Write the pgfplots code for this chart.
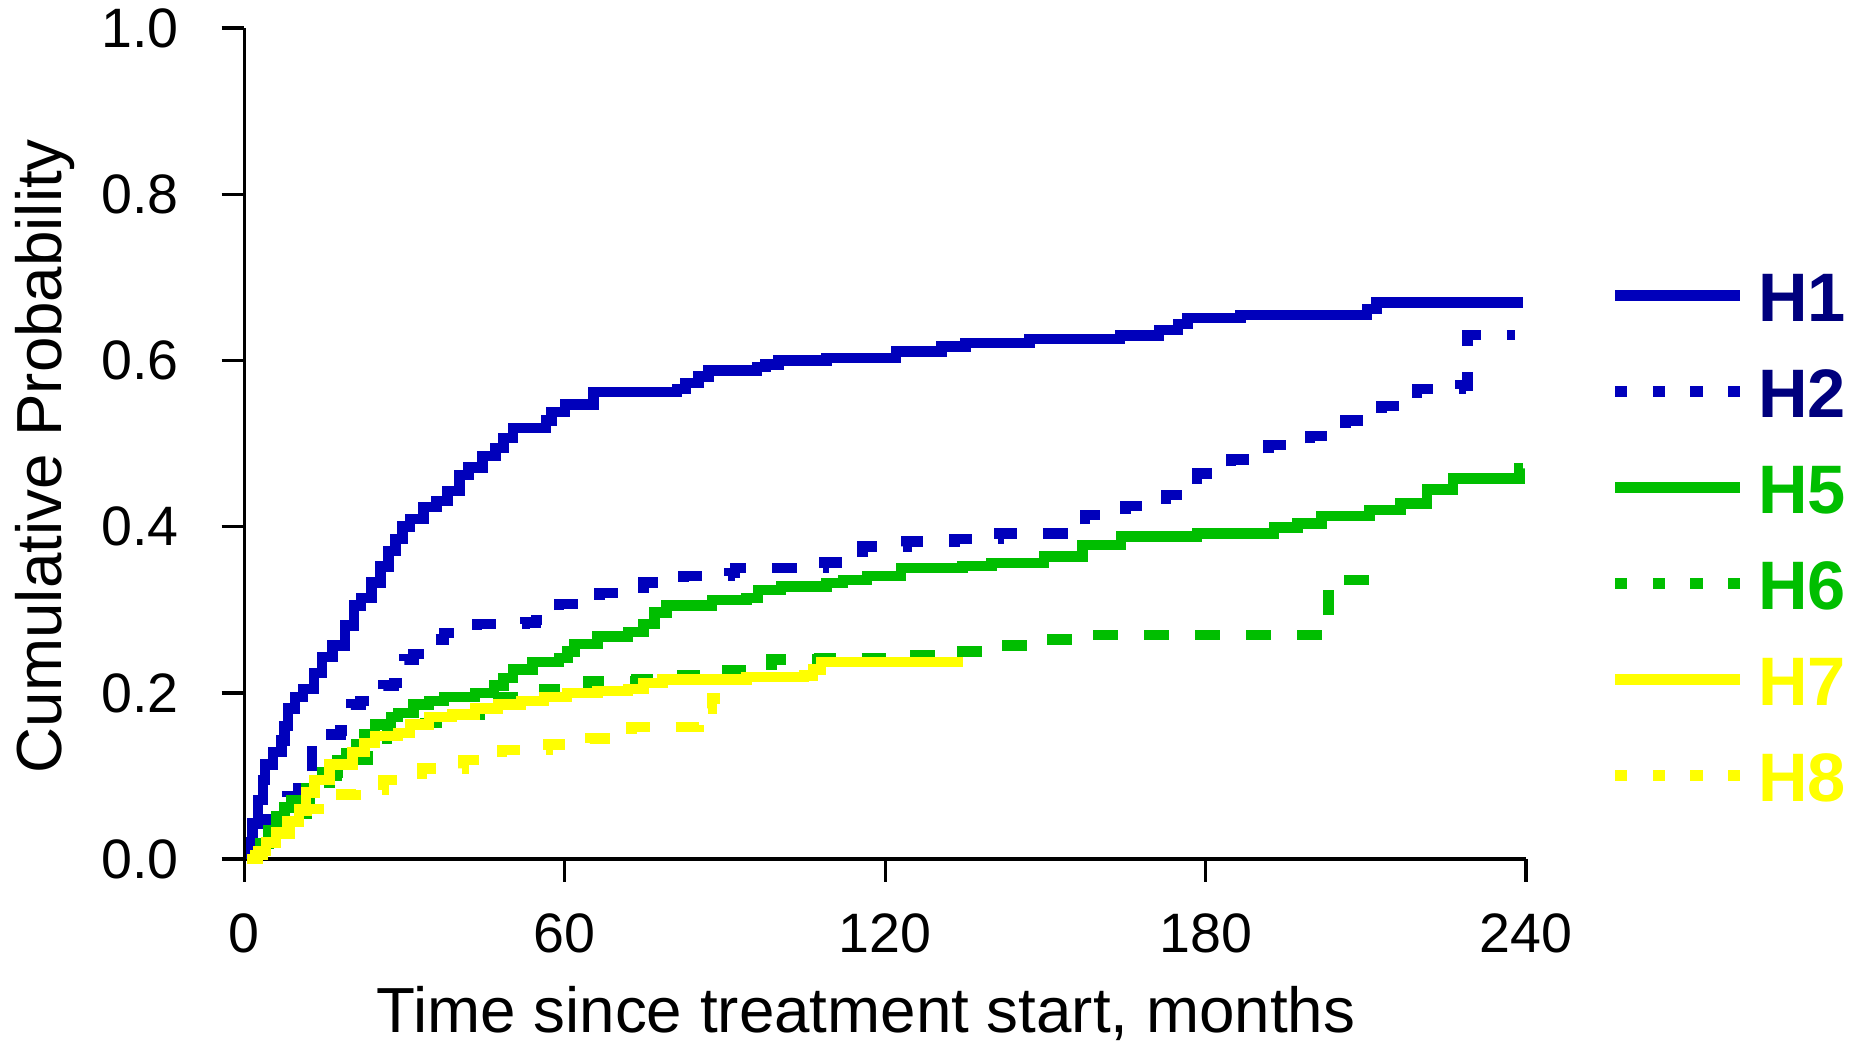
\documentclass[border=0pt]{standalone}
\usepackage{fontspec}
\setmainfont{Liberation Sans}
\usepackage{pgfplots}
\pgfplotsset{compat=1.18}
\definecolor{hblue}{RGB}{0,0,187}
\definecolor{hnavy}{RGB}{0,0,125}
\definecolor{hgreen}{RGB}{0,190,0}
\definecolor{hyellow}{RGB}{255,255,0}
\begin{document}
\begin{tikzpicture}
\begin{axis}[
  scale only axis,
  width=392.2pt, height=254.3pt,
  xmin=0, xmax=240, ymin=0, ymax=1,
  axis lines=left,
  axis line style={line width=1pt, -},
  clip=false,
  xtick={0,60,120,180,240},
  xticklabels={0,60,120,180,240},
  ytick={0,0.2,0.4,0.6,0.8,1},
  yticklabels={0.0,0.2,0.4,0.6,0.8,1.0},
  tick align=outside,
  major tick length=7pt,
  tick style={line width=1pt, black},
  tick label style={font=\fontsize{17}{17}\selectfont},
  yticklabel style={anchor=east, inner sep=0pt, xshift=-13pt},
  xticklabel style={anchor=north, inner sep=0pt, yshift=-9.5pt},
  xlabel={Time since treatment start, months},
  ylabel={Cumulative Probability},
  label style={font=\fontsize{19.5}{19.5}\selectfont},
  xlabel style={at={(axis description cs:0.485,-0.2085)}, anchor=base, inner sep=0pt},
  ylabel style={at={(axis description cs:-0.1555,0.485)}, anchor=center, inner sep=0pt},
  legend style={at={(axis description cs:1.065,0.3874)}, anchor=west, draw=none, fill=none,
    font=\fontsize{21}{21}\selectfont\bfseries, inner sep=0pt,
    nodes={inner sep=0pt, text height=15pt, text depth=0pt},
    row sep=14.4pt, column sep=3.9pt},
  legend cell align=left,
  legend image code/.code={\draw[#1] (0pt,0.5pt) -- (38.2pt,0.5pt);},
  every axis plot/.append style={line width=3.2pt, const plot},
]
\addplot[hblue] coordinates {
(0.5,0) (1.2,0.02) (1.5,0.043) (2.5,0.071) (3.5,0.095) (3.9,0.114) (5.4,0.129) (6.9,0.143) (7.5,0.16) (8.2,0.181) (9.5,0.195) (11,0.205) (13,0.224) (14.5,0.243) (16.5,0.257) (18.8,0.281) (20.5,0.305) (21.8,0.314) (23.8,0.333) (25.5,0.352) (27,0.371) (28.3,0.385) (29.6,0.40) (31,0.409) (33.5,0.424) (36,0.431) (38,0.443) (40.3,0.462) (42,0.471) (44.6,0.485) (47,0.495) (48.5,0.507) (50.3,0.519) (56.5,0.528) (57.5,0.538) (60,0.547) (65.4,0.562) (81,0.566) (82.6,0.573) (85,0.581) (86.9,0.588) (96,0.592) (97.6,0.595) (100,0.600) (109,0.603) (122,0.611) (130.5,0.617) (135,0.621) (147,0.626) (164,0.630) (171.3,0.637) (174.8,0.644) (176.6,0.651) (186.5,0.655) (210.2,0.662) (212,0.670) (239.5,0.670)};
\addlegendentry[text=hnavy]{H1}
\addplot[hblue, dash pattern=on 7.6pt off 8pt, legend image post style={dash pattern=on 3.7pt off 7.8pt}] coordinates {
(0.5,0) (2,0.02) (3,0.035) (4.5,0.048) (6.5,0.062) (8,0.076) (10,0.085) (12.7,0.14) (15,0.15) (18,0.155) (20,0.186) (21.7,0.19) (26,0.209) (28,0.212) (30,0.24) (31.7,0.247) (35.5,0.264) (37.4,0.272) (43.5,0.283) (52.5,0.285) (54.6,0.288) (58.9,0.307) (66.5,0.32) (74.7,0.333) (82.2,0.341) (90.8,0.344) (91.9,0.35) (108.5,0.357) (115.7,0.376) (124,0.382) (133,0.385) (141.3,0.392) (157.4,0.414) (165,0.425) (172.6,0.438) (178.4,0.464) (184.7,0.481) (191.8,0.498) (199.5,0.509) (206.2,0.528) (212.9,0.545) (219.6,0.566) (227.7,0.57) (229,0.631) (238,0.631)};
\addlegendentry[text=hnavy]{H2}
\addplot[hgreen] coordinates {
(0.5,0) (2,0.005) (3,0.019) (4.5,0.035) (5.9,0.052) (7.5,0.062) (8.8,0.071) (11.6,0.085) (13,0.095) (14.5,0.104) (17.4,0.119) (19,0.128) (20.9,0.138) (22.5,0.15) (24.5,0.162) (27.4,0.171) (28.8,0.176) (31.7,0.186) (34.6,0.19) (37.4,0.195) (43.2,0.2) (46.7,0.209) (48.5,0.218) (50.3,0.228) (53.9,0.237) (58.9,0.242) (60.5,0.25) (61.8,0.259) (66.1,0.268) (71.8,0.273) (74.7,0.283) (76.8,0.297) (79,0.305) (87.6,0.312) (94,0.314) (96.2,0.324) (100.5,0.328) (109,0.332) (112.1,0.336) (116.6,0.341) (122.9,0.35) (134.5,0.353) (139.9,0.356) (149.7,0.364) (156.9,0.378) (164.1,0.388) (178.4,0.392) (192.8,0.399) (197.2,0.404) (201.7,0.413) (210.7,0.42) (216.5,0.428) (221.4,0.445) (226.3,0.458) (238.8,0.47) (239.5,0.47)};
\addlegendentry[text=hgreen]{H5}
\addplot[hgreen, dash pattern=on 7.6pt off 8pt, legend image post style={dash pattern=on 3.7pt off 7.8pt}] coordinates {
(0.5,0) (2,0.005) (3,0.02) (5,0.03) (7.6,0.041) (9.5,0.055) (11.6,0.071) (13.5,0.085) (15.9,0.1) (19.5,0.119) (23.1,0.138) (26.7,0.152) (30.3,0.162) (33.9,0.164) (38,0.170) (40.3,0.174) (44,0.185) (47.5,0.195) (56.1,0.205) (64.3,0.214) (73.3,0.216) (81.9,0.221) (90.5,0.227) (98.7,0.24) (107.6,0.242) (124.6,0.245) (133,0.25) (141.8,0.257) (149.7,0.264) (158.7,0.27) (203,0.336) (210.5,0.336)};
\addlegendentry[text=hgreen]{H6}
\addplot[hyellow] coordinates {
(0.5,0) (2.5,0.01) (4,0.02) (5.9,0.032) (8,0.045) (10.2,0.06) (11.5,0.08) (13.1,0.095) (15.9,0.114) (20.2,0.129) (22.5,0.14) (24.5,0.148) (28.8,0.152) (31,0.162) (34.6,0.171) (38.9,0.174) (43.2,0.181) (47.5,0.186) (51.8,0.19) (56.1,0.195) (60.4,0.2) (66.1,0.202) (71.8,0.205) (74.7,0.212) (78.3,0.216) (94,0.219) (104.8,0.221) (106.5,0.228) (108,0.237) (134.5,0.237)};
\addlegendentry[text=hyellow]{H7}
\addplot[hyellow, dash pattern=on 7.6pt off 8pt, legend image post style={dash pattern=on 3.7pt off 7.8pt}] coordinates {
(0.5,0) (2,0.005) (3.5,0.015) (5.9,0.03) (8.5,0.045) (11.6,0.06) (15,0.07) (18.1,0.078) (20.9,0.083) (26,0.095) (33.2,0.109) (41,0.119) (48.2,0.131) (56.8,0.138) (64.7,0.145) (72.5,0.159) (85.1,0.181) (87.6,0.193) (89,0.193)};
\addlegendentry[text=hyellow]{H8}
\end{axis}
\coordinate (NE) at ([shift={(103.1pt,8.6pt)}]current axis.north east);
\coordinate (SW) at ([shift={(-74.8pt,-55.4pt)}]current axis.south west);
\pgfresetboundingbox
\path[use as bounding box] (SW) rectangle (NE);
\end{tikzpicture}
\end{document}
